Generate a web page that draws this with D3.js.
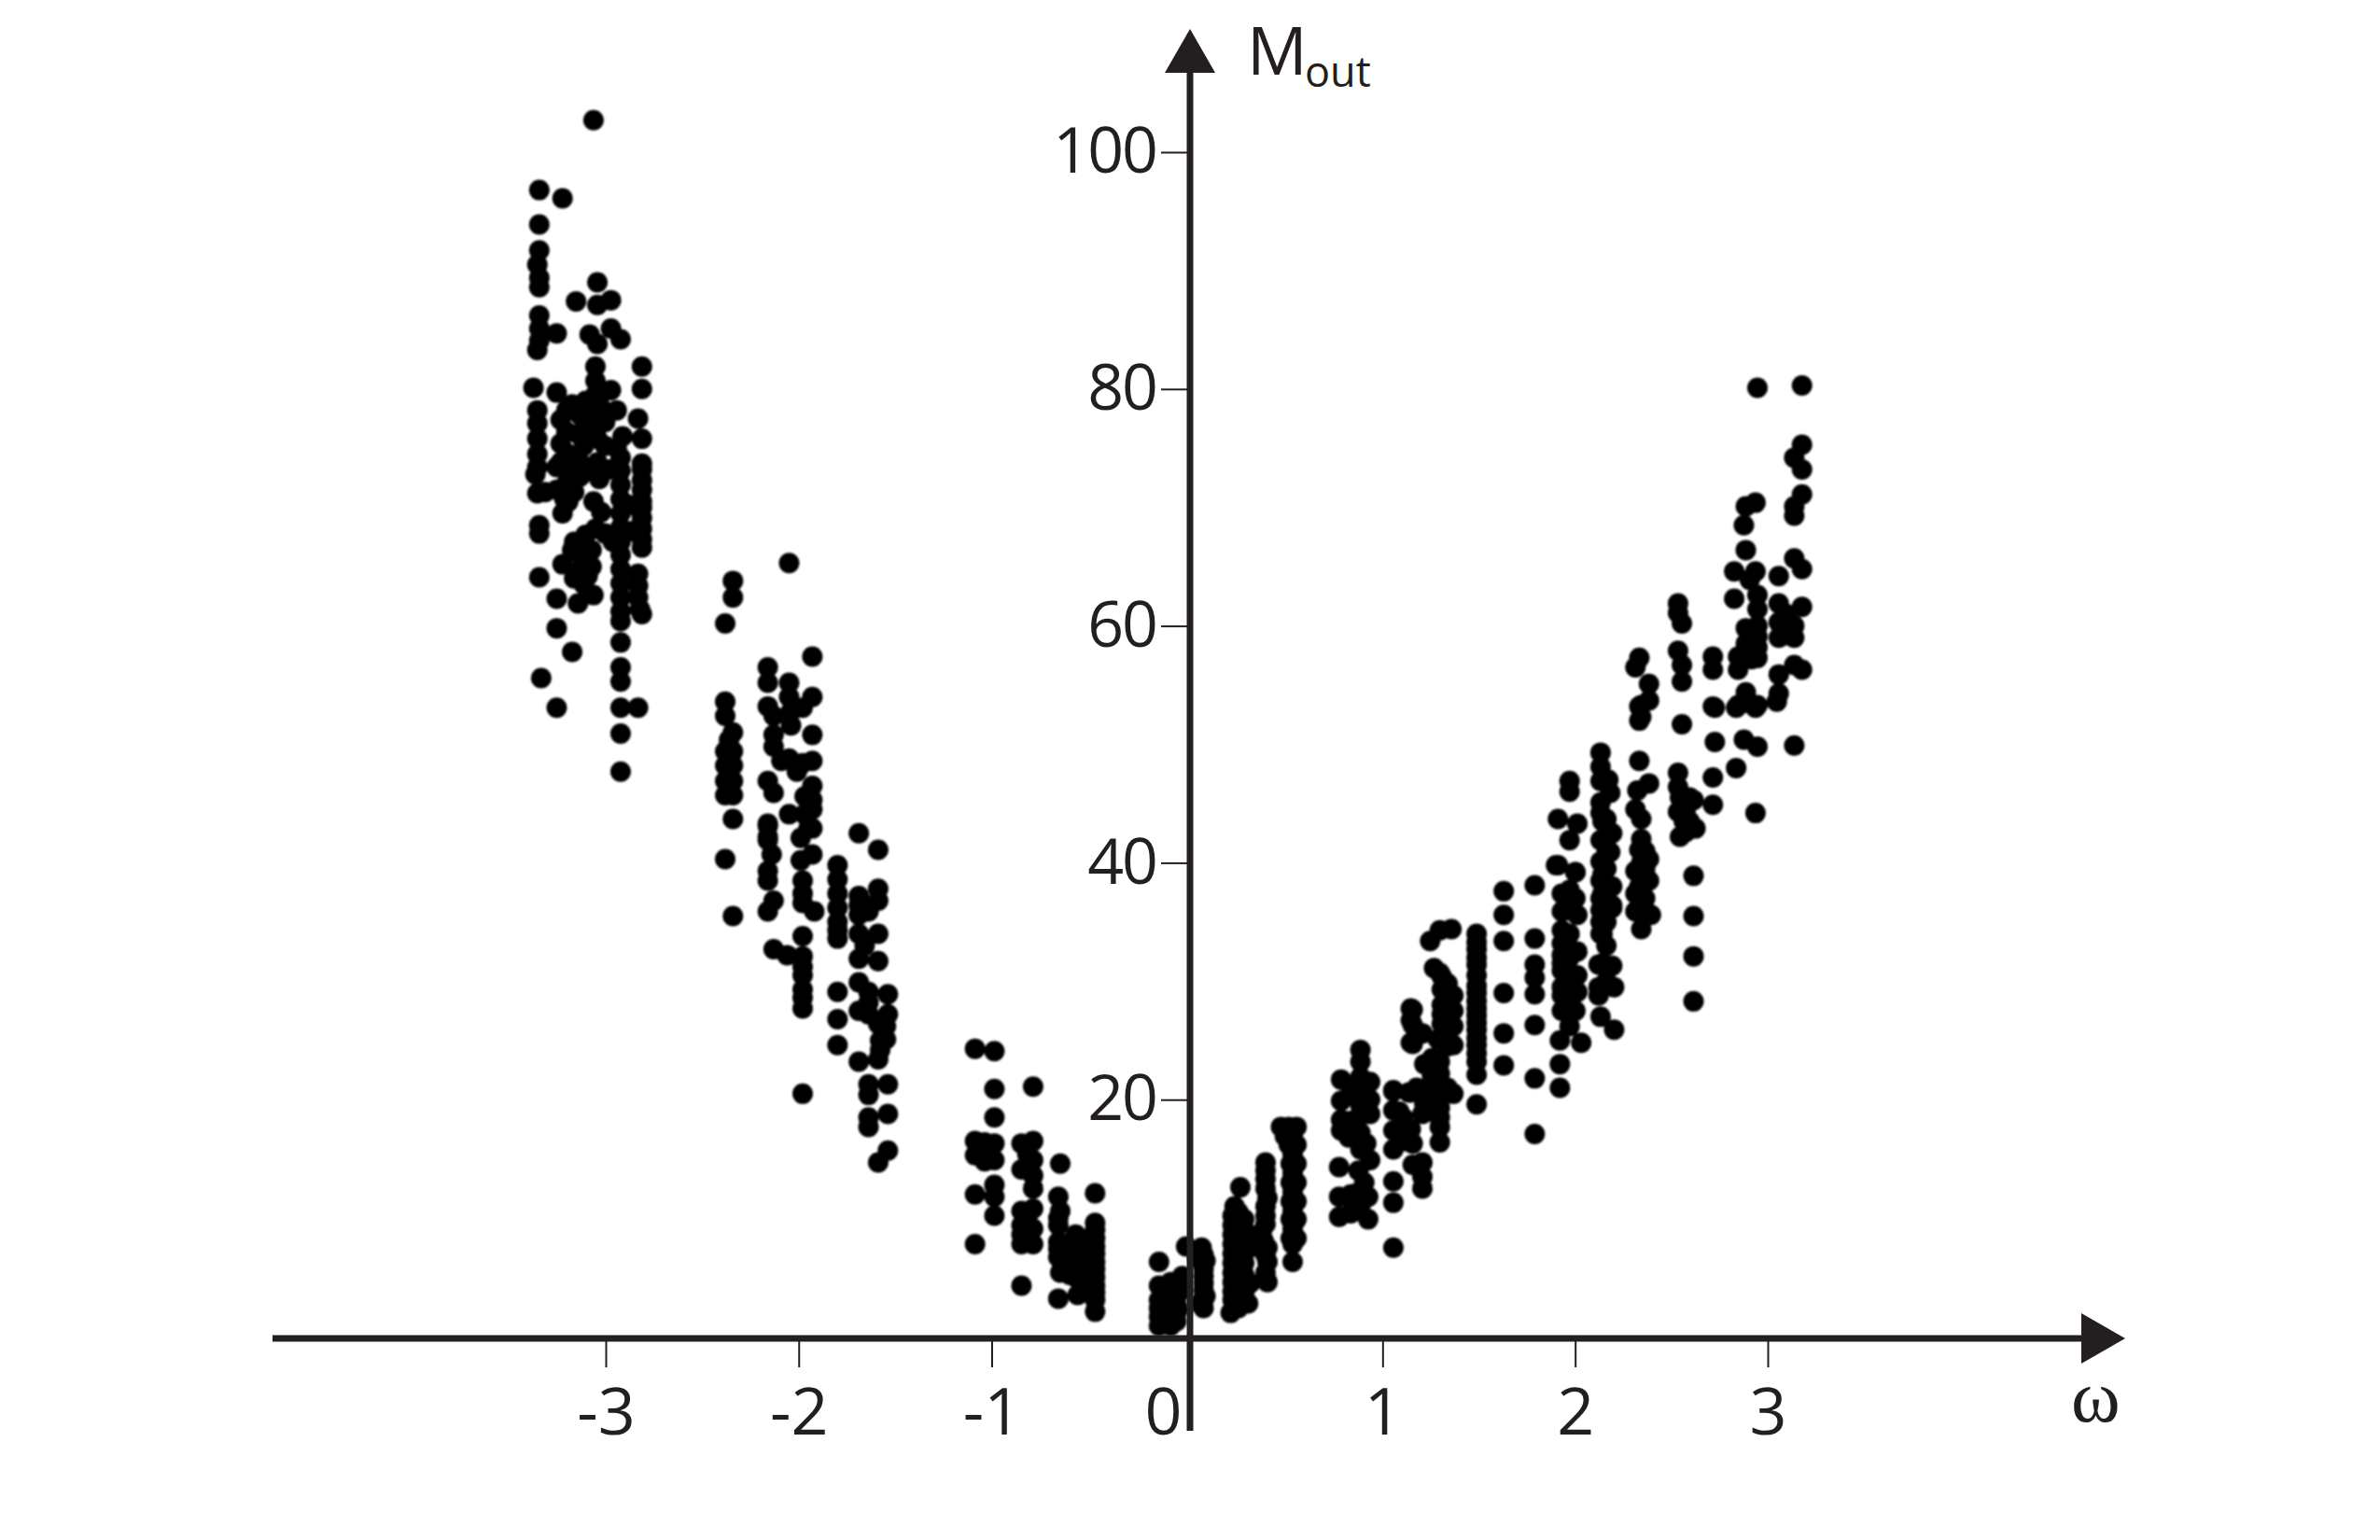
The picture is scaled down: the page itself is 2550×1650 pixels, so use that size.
<!DOCTYPE html>
<html>
<head>
<meta charset="utf-8">
<script src="https://cdn.jsdelivr.net/npm/d3@7"></script>
<style>
  html, body { margin: 0; background: #fff; }
  text { font-family: "Open Sans", sans-serif; fill: #231f20; }
</style>
</head>
<body>
<svg id="chart" width="2550" height="1650"></svg>
<script>
// tick labels
var omegaTicks = [-3, -2, -1, 0, 1, 2, 3];
var moutTicks = [20, 40, 60, 80, 100];

// [omega, Mout], one list per band
var bandNeg3Left = [
  [-3.08, 102.7], [-3.36, 96.8], [-3.24, 96.1], [-3.36, 93.9], [-3.36, 91.7], [-3.37, 90.5], [-3.36, 89.4], [-3.36, 88.6],
  [-3.36, 86.2], [-3.36, 85.1], [-3.36, 84.1], [-3.37, 83.3], [-3.27, 84.7], [-3.39, 80.1], [-3.27, 79.7],
  [-3.37, 78.2], [-3.37, 77.1], [-3.37, 75.8], [-3.37, 74.5], [-3.37, 71.2], [-3.36, 68.5], [-3.36, 67.8],
  [-3.36, 64.1], [-3.35, 55.6], [-3.27, 53.1], [-3.27, 59.8], [-3.27, 62.3], [-3.27, 71.5], [-3.27, 73.4],
  [-3.25, 77.4], [-3.25, 75.4], [-3.25, 73.8], [-3.24, 69.5], [-3.24, 65.2], [-3.21, 70.5],
  [-3.19, 78.7], [-3.16, 76.2], [-3.16, 74.2], [-3.18, 71.3], [-3.18, 67.1], [-3.19, 66.4], [-3.17, 64.5],
  [-3.18, 64.0], [-3.16, 61.9], [-3.19, 57.8],
  [-3.33, 71.3], [-3.38, 72.8], [-3.37, 73.4], [-3.22, 78.2], [-3.22, 76.4], [-3.22, 74.6], [-3.2, 72.8],
  [-3.15, 77.8], [-3.13, 75.2], [-3.15, 72.6], [-3.15, 66.0], [-3.14, 64.8], [-3.13, 63.5], [-3.22, 72.0], [-3.23, 70.7]
];
var bandNeg3Mid = [
  [-3.06, 89.0], [-3.17, 87.4], [-3.06, 87.1], [-2.99, 87.5], [-3.10, 84.6], [-3.06, 83.8], [-2.99, 85.1], [-2.94, 84.2],
  [-3.07, 81.9], [-3.07, 80.7], [-3.07, 79.5], [-2.99, 79.9], [-3.12, 79.0], [-3.05, 78.7], [-2.96, 78.2],
  [-3.06, 77.8], [-3.06, 75.8], [-3.06, 73.8], [-3.13, 78.6], [-3.09, 73.4], [-3.05, 72.4], [-3.08, 70.5], [-3.12, 67.7],
  [-3.07, 68.2], [-3.09, 66.4], [-3.09, 65.0], [-3.11, 64.2], [-3.08, 62.6], [-2.98, 67.1],
  [-3.09, 76.8], [-3.02, 77.2], [-3.02, 75.2], [-3.0, 73.2], [-3.11, 66.0], [-3.04, 69.6], [-3.02, 67.8]
];
var bandNeg3Right = [
  [-2.94, 74.2], [-2.94, 73.1], [-2.94, 71.9], [-2.94, 70.7], [-2.94, 69.5], [-2.94, 68.3], [-2.94, 67.1], [-2.94, 66.0],
  [-2.94, 64.8], [-2.94, 63.6], [-2.94, 62.4], [-2.94, 61.2], [-2.94, 60.4], [-2.94, 58.6], [-2.94, 56.5], [-2.94, 55.3],
  [-2.94, 53.1], [-2.94, 50.9], [-2.94, 47.7], [-2.85, 77.5], [-2.93, 76.0], [-2.96, 75.0],
  [-2.83, 81.9], [-2.83, 80.0], [-2.83, 75.8], [-2.83, 73.7], [-2.83, 73.2], [-2.83, 71.5], [-2.83, 70.5], [-2.83, 69.1],
  [-2.83, 67.3], [-2.85, 64.4], [-2.85, 62.4], [-2.83, 61.0], [-2.84, 61.4], [-2.85, 53.1],
  [-2.83, 72.3], [-2.83, 70.0], [-2.83, 68.2], [-2.83, 66.6], [-2.85, 63.4], [-2.88, 70.2], [-2.88, 68.0]
];
var bandNeg2Left = [
  [-2.07, 65.3], [-2.36, 63.8], [-2.36, 62.4], [-2.40, 60.2], [-1.95, 57.4], [-2.18, 56.5], [-2.18, 55.2],
  [-2.07, 55.2], [-2.07, 54.0], [-1.95, 54.0], [-2.00, 53.1], [-2.06, 52.8], [-2.18, 53.2], [-2.15, 52.4], [-2.06, 51.6],
  [-2.40, 53.6], [-2.40, 52.4], [-2.36, 51.0], [-1.95, 50.8], [-2.15, 50.8], [-2.15, 49.8], [-2.07, 48.8], [-2.00, 48.4],
  [-1.95, 48.6], [-2.40, 49.4], [-2.36, 49.4], [-2.40, 48.2], [-2.36, 48.2], [-2.40, 46.9], [-2.36, 46.9], [-2.40, 45.7],
  [-2.36, 45.7], [-2.36, 43.7], [-2.18, 46.9], [-2.15, 45.9], [-1.95, 46.5], [-1.99, 45.6], [-1.95, 44.5], [-2.07, 44.1],
  [-1.99, 44.1], [-1.95, 42.9], [-2.18, 43.1], [-2.18, 42.2], [-2.18, 43.3], [-2.18, 41.9], [-1.97, 44.5], [-1.97, 42.9],
  [-2.01, 42.1], [-1.95, 45.3], [-2.16, 40.7], [-2.18, 39.3], [-2.18, 38.5], [-2.40, 40.3], [-1.95, 40.7], [-2.01, 40.2],
  [-2.00, 38.5], [-2.00, 37.4], [-2.00, 36.6], [-1.94, 35.9], [-2.15, 36.8], [-2.18, 35.9], [-2.36, 35.5],
  [-2.00, 33.8], [-2.15, 32.7], [-2.08, 32.2], [-2.00, 32.1], [-2.00, 30.5], [-2.00, 29.3], [-2.00, 27.7], [-2.00, 20.5],
  [-2.38, 49.0], [-2.38, 47.5], [-2.38, 46.2], [-2.38, 50.4], [-2.03, 47.7], [-2.11, 48.6], [-2.0, 31.2], [-2.0, 28.6]
];
var bandNeg2Right = [
  [-1.71, 42.5], [-1.61, 41.1], [-1.82, 39.8], [-1.82, 37.4], [-1.82, 36.2], [-1.82, 35.0], [-1.82, 33.6],
  [-1.71, 37.2], [-1.71, 35.6], [-1.61, 37.8], [-1.61, 36.8], [-1.66, 35.9], [-1.61, 34.0], [-1.71, 34.0], [-1.68, 33.0],
  [-1.71, 31.9], [-1.61, 31.7], [-1.82, 29.1], [-1.82, 26.8], [-1.82, 24.6], [-1.71, 29.9], [-1.66, 29.1], [-1.56, 28.9],
  [-1.71, 27.5], [-1.66, 27.2], [-1.56, 27.2], [-1.57, 26.2], [-1.57, 25.1], [-1.71, 23.2], [-1.61, 23.4],
  [-1.66, 21.3], [-1.56, 21.3], [-1.66, 20.4], [-1.66, 18.5], [-1.56, 18.8], [-1.66, 17.7], [-1.56, 15.7], [-1.61, 14.7],
  [-1.82, 38.6], [-1.82, 34.3], [-1.61, 26.4], [-1.6, 25.0], [-1.6, 24.2], [-1.71, 36.4], [-1.66, 28.2]
];
var bandNeg1 = [
  [-1.11, 24.3], [-1.01, 24.1], [-1.01, 20.9], [-0.81, 21.1], [-1.01, 18.5], [-1.11, 16.5], [-1.11, 15.3], [-1.01, 16.3],
  [-1.01, 14.9], [-1.06, 15.7], [-1.11, 12.0], [-1.01, 12.8], [-1.01, 11.8], [-1.01, 10.2], [-1.11, 7.8],
  [-0.87, 16.3], [-0.81, 16.5], [-0.87, 14.1], [-0.81, 14.9], [-0.81, 13.6], [-0.81, 12.5],
  [-0.87, 10.6], [-0.81, 10.8], [-0.87, 9.4], [-0.81, 9.1], [-0.87, 7.8], [-0.81, 7.8], [-0.87, 4.3],
  [-0.67, 14.6], [-0.49, 12.1], [-0.68, 11.8], [-0.67, 10.6], [-0.68, 9.4], [-0.68, 8.0], [-0.68, 6.7], [-0.67, 5.4], [-0.68, 3.2],
  [-0.59, 8.6], [-0.59, 7.2], [-0.59, 5.9], [-0.58, 3.5],
  [-0.49, 9.6], [-0.49, 8.3], [-0.49, 7.0], [-0.49, 5.7], [-0.49, 4.3], [-0.49, 3.1], [-0.49, 2.1],
  [-1.06, 16.4], [-1.06, 14.8], [-0.84, 15.4], [-0.84, 10.0], [-0.84, 8.6], [-0.87, 8.6],
  [-0.68, 10.0], [-0.68, 7.4], [-0.66, 6.0], [-0.63, 7.8], [-0.63, 6.2], [-0.62, 5.2], [-0.59, 7.9], [-0.59, 6.5], [-0.59, 5.0],
  [-0.54, 8.2], [-0.54, 7.0], [-0.54, 5.9], [-0.54, 4.9], [-0.53, 3.8], [-0.49, 9.0], [-0.49, 7.6], [-0.49, 6.3], [-0.49, 5.0], [-0.49, 3.7]
];
var bandZero = [
  [-0.16, 6.3], [-0.02, 7.6], [0.06, 7.5], [0.06, 6.3], [0.07, 5.1], [0.07, 3.9], [0.07, 2.4],
  [-0.16, 4.3], [-0.16, 3.1], [-0.16, 1.7], [-0.16, 0.9], [-0.10, 4.6], [-0.10, 3.3], [-0.10, 2.0], [-0.10, 0.9],
  [-0.04, 5.1], [-0.04, 3.9], [-0.06, 2.3],
  [-0.13, 3.8], [-0.13, 2.6], [-0.13, 1.2], [-0.07, 4.3], [-0.07, 2.7], [-0.07, 1.3], [-0.16, 2.4],
  [0.07, 6.9], [0.07, 5.7], [0.07, 4.5], [0.07, 3.1], [0.05, 2.8], [0.04, 6.6], [0.08, 6.4], [0.08, 3.4]
];
var bandPosHalf = [
  [0.26, 12.6], [0.23, 11.0], [0.22, 9.4], [0.28, 9.9], [0.22, 7.8], [0.28, 8.0], [0.22, 6.2], [0.28, 6.2], [0.22, 4.6], [0.28, 4.3],
  [0.21, 2.0], [0.22, 3.1], [0.30, 2.8],
  [0.39, 14.7], [0.39, 13.3], [0.40, 11.7], [0.39, 10.2], [0.37, 8.8], [0.40, 7.5], [0.40, 6.3], [0.40, 4.6],
  [0.47, 17.7], [0.51, 17.7], [0.55, 17.7], [0.51, 16.2], [0.55, 16.2], [0.52, 14.6], [0.55, 14.6], [0.52, 13.0], [0.55, 13.0],
  [0.52, 11.4], [0.55, 11.4], [0.52, 9.9], [0.55, 9.9], [0.52, 8.3], [0.55, 8.3], [0.53, 6.3],
  [0.22, 10.2], [0.25, 10.5], [0.22, 8.6], [0.25, 8.8], [0.28, 9.0], [0.22, 7.0], [0.25, 7.0], [0.28, 7.1], [0.22, 5.4], [0.25, 5.3],
  [0.28, 5.2], [0.22, 3.8], [0.25, 3.5], [0.28, 3.6], [0.25, 2.4], [0.28, 2.8], [0.31, 4.5], [0.31, 7.5],
  [0.39, 14.0], [0.39, 12.5], [0.39, 11.0], [0.39, 9.5], [0.38, 8.1], [0.39, 6.9], [0.39, 5.4],
  [0.53, 17.0], [0.53, 15.4], [0.53, 13.8], [0.53, 12.2], [0.53, 10.6], [0.53, 9.1], [0.49, 16.9], [0.53, 7.8]
];
var bandPos1 = [
  [0.88, 24.2], [0.88, 23.2], [0.78, 21.7], [0.88, 21.9], [0.93, 21.5], [0.78, 19.9], [0.88, 20.3], [0.78, 17.4],
  [0.88, 18.6], [0.93, 18.8], [0.78, 18.3], [0.88, 17.2], [0.88, 15.8], [0.93, 14.9], [0.91, 16.3],
  [0.77, 14.3], [0.87, 14.0], [0.77, 11.8], [0.77, 10.1], [0.86, 12.1], [0.92, 11.8], [0.84, 10.7], [0.92, 9.9],
  [1.05, 20.8], [1.05, 19.1], [1.05, 17.4], [1.05, 15.8], [1.05, 13.1], [1.05, 11.3], [1.05, 7.5],
  [1.13, 20.6], [1.12, 17.4], [1.15, 16.3], [1.15, 14.5], [1.20, 14.7], [1.20, 12.5], [1.20, 13.5],
  [1.15, 27.6], [1.15, 26.3], [1.15, 24.7], [1.20, 25.6], [1.26, 31.1], [1.29, 30.7],
  [1.35, 34.4], [1.29, 34.3], [1.24, 33.4], [1.14, 27.7], [1.14, 26.7], [1.14, 24.8], [1.19, 25.6],
  [1.30, 29.3], [1.36, 28.8], [1.30, 28.0], [1.36, 27.5], [1.30, 26.4], [1.36, 26.2], [1.28, 25.1], [1.36, 24.6],
  [1.21, 23.0], [1.29, 23.2], [1.29, 22.2], [1.05, 20.7], [1.14, 20.6], [1.21, 20.8], [1.29, 20.6], [1.36, 20.5],
  [1.21, 19.6], [1.29, 19.3], [1.29, 17.7], [1.14, 17.5],
  [0.83, 21.0], [0.83, 18.2], [0.83, 12.0], [0.83, 10.4], [0.88, 19.5], [0.9, 13.0], [0.93, 20.0], [0.88, 11.0], [0.85, 20.4], [0.82, 16.8],
  [1.08, 19.0], [1.1, 16.5], [1.1, 18.5], [1.25, 20.0], [1.25, 21.5], [1.25, 23.5], [1.25, 19.0], [1.29, 16.4], [1.29, 18.5], [1.25, 22.0],
  [1.33, 28.5], [1.33, 27.0], [1.33, 25.5], [1.33, 24.5], [1.3, 30.4], [1.3, 27.2], [1.33, 29.8], [1.17, 21.0], [1.2, 18.8], [1.33, 21.0]
];
var bandPos1Cols = [
  [1.48, 34.0], [1.48, 32.7], [1.48, 31.4], [1.48, 29.6], [1.48, 28.3], [1.48, 27.1], [1.48, 25.9], [1.48, 24.6], [1.48, 23.2], [1.48, 22.1], [1.48, 19.6],
  [1.62, 37.6], [1.62, 35.6], [1.62, 33.4], [1.62, 29.0], [1.62, 25.6], [1.62, 22.9],
  [1.78, 38.1], [1.78, 33.6], [1.78, 31.4], [1.78, 30.3], [1.78, 28.9], [1.78, 26.3], [1.78, 21.8], [1.78, 17.1],
  [1.48, 33.3], [1.48, 30.5], [1.48, 29.0], [1.48, 27.7], [1.48, 26.5], [1.48, 25.2], [1.48, 23.9], [1.48, 32.0]
];
var bandPos2 = [
  [1.89, 39.8], [1.99, 39.2], [1.92, 37.4], [1.92, 35.9], [1.92, 34.3], [2.00, 35.6], [1.99, 37.0],
  [1.92, 32.2], [1.92, 30.9], [2.00, 32.5], [1.92, 28.8], [1.92, 27.5], [2.00, 29.1], [1.99, 27.5],
  [1.91, 25.0], [2.02, 24.8], [1.91, 23.0], [1.91, 21.0],
  [1.90, 43.7], [2.00, 43.3], [1.96, 41.9], [1.90, 39.8], [1.99, 39.2], [1.96, 46.9], [1.96, 46.0],
  [2.13, 39.0], [2.13, 37.4], [2.18, 36.4], [2.13, 34.0], [2.11, 31.4], [2.18, 31.3], [2.11, 28.8], [2.19, 29.5],
  [2.12, 27.0], [2.19, 25.9],
  [2.12, 49.3], [2.12, 48.1], [2.12, 46.9], [2.17, 45.9], [2.12, 45.1], [2.13, 43.5], [2.18, 42.5], [2.12, 41.9],
  [2.17, 40.9], [2.12, 40.1], [2.12, 38.5], [2.18, 38.0], [2.12, 37.0], [2.18, 36.2], [2.12, 34.0],
  [2.32, 48.6], [2.37, 46.7], [2.31, 46.1], [2.30, 44.5], [2.33, 43.7],
  [2.32, 41.1], [2.37, 40.3], [2.30, 39.3], [2.37, 38.5], [2.30, 37.4], [2.30, 35.9], [2.38, 35.6], [2.33, 34.4],
  [2.32, 57.3], [2.30, 56.5], [2.37, 55.1], [2.37, 53.7], [2.32, 53.2], [2.32, 52.0], [2.33, 53.3], [2.33, 52.3],
  [2.52, 47.6], [2.52, 46.4], [2.60, 45.3], [2.52, 44.3], [2.58, 43.5], [2.53, 42.2], [2.61, 42.9], [2.54, 51.7],
  [2.60, 38.9], [2.60, 35.5], [2.60, 32.1], [2.60, 28.3],
  [2.52, 61.9], [2.52, 61.1], [2.54, 60.2], [2.52, 57.9], [2.54, 56.7], [2.54, 55.3],
  [1.96, 36.0], [1.96, 34.0], [1.96, 30.0], [1.96, 28.0], [1.96, 32.0], [1.96, 37.7], [1.92, 31.5], [1.92, 33.2], [1.92, 29.5], [1.96, 26.2], [2.0, 30.5],
  [2.12, 44.2], [2.15, 42.0], [2.15, 39.5], [2.15, 38.0], [2.12, 36.0], [2.15, 35.0], [2.12, 35.0], [2.16, 47.0], [2.15, 43.7], [2.15, 40.8],
  [2.13, 31.5], [2.15, 30.0], [2.11, 29.5], [2.15, 33.0], [2.16, 36.6],
  [2.32, 38.0], [2.35, 39.5], [2.35, 37.0], [2.35, 36.0], [2.33, 42.0], [2.33, 40.0], [2.35, 41.0],
  [2.55, 45.0], [2.55, 43.5], [2.56, 44.5], [2.58, 45.5], [2.53, 45.5], [2.56, 42.6]
];
var bandPos3 = [
  [2.71, 53.1], [2.82, 53.1], [2.92, 53.1], [3.03, 53.6], [2.71, 50.2], [2.86, 50.4], [2.93, 49.8], [3.12, 49.9],
  [2.82, 48.0], [2.70, 47.2], [2.70, 44.9], [2.92, 44.2], [2.70, 57.4], [2.70, 56.3], [2.70, 53.2],
  [2.83, 53.3], [2.87, 54.4], [2.93, 53.3],
  [2.93, 80.1], [3.16, 80.3], [3.16, 75.3], [3.12, 74.2], [3.16, 73.2], [3.16, 71.1], [3.12, 70.1], [3.12, 69.3],
  [2.87, 70.1], [2.92, 70.4], [2.86, 68.5], [2.87, 66.4], [3.12, 65.7], [3.16, 64.8],
  [2.81, 64.6], [2.92, 64.6], [3.04, 64.2], [2.81, 62.3], [2.93, 62.6], [2.93, 61.4], [3.04, 61.9], [3.16, 61.6],
  [2.87, 59.8], [2.93, 60.0], [3.04, 60.3], [3.04, 59.0], [3.12, 60.0], [3.12, 59.0],
  [2.93, 58.2], [2.83, 57.4], [2.83, 56.3], [3.04, 55.9], [3.12, 56.7], [3.16, 56.3], [3.04, 54.3],
  [2.93, 59.1], [2.9, 57.2], [3.07, 60.5], [3.07, 59.2], [3.08, 61.0], [2.87, 58.5], [2.88, 53.5], [2.89, 63.9], [2.93, 57.3]
];

var allBands = [bandNeg3Left, bandNeg3Mid, bandNeg3Right, bandNeg2Left, bandNeg2Right, bandNeg1,
  bandZero, bandPosHalf, bandPos1, bandPos1Cols, bandPos2, bandPos3];
var points = d3.merge(allBands);

var ink = "#231f20";
var svg = d3.select("#chart");

var x = d3.scaleLinear().domain([-3, 3]).range([652.5, 1897.5]);
var y = d3.scaleLinear().domain([0, 100]).range([1432, 163]);
var axisX = 1275, axisY = 1434;

// ticks in the original sit a little off the dots' grid on the negative side
var xTickScale = d3.scaleLinear().domain([-3, -1, 0, 3]).range([649, 1062.5, 1275, 1894]);

// scanned dots are a bit soft
var blur = svg.append("defs").append("filter").attr("id", "soft");
blur.append("feGaussianBlur").attr("stdDeviation", 1.2);

svg.append("g").attr("filter", "url(#soft)")
  .selectAll("circle").data(points).enter().append("circle")
  .attr("cx", function (d) { return x(d[0]); })
  .attr("cy", function (d) { return y(d[1]); })
  .attr("r", 11)
  .attr("fill", "#040406");

var xAxis = d3.axisBottom(xTickScale).tickValues(omegaTicks).tickSize(31).tickPadding(22).tickSizeOuter(0)
  .tickFormat(function (d) { return d; });
var yAxis = d3.axisLeft(y).tickValues(moutTicks).tickSize(31).tickPadding(5).tickSizeOuter(0);

var gx = svg.append("g").attr("transform", "translate(0," + axisY + ")").call(xAxis);
var gy = svg.append("g").attr("transform", "translate(" + axisX + ",0)").call(yAxis);
gx.select(".domain").remove();
gy.select(".domain").remove();
gx.selectAll("line").attr("stroke", ink).attr("stroke-width", 2);
gy.selectAll("line").attr("stroke", ink).attr("stroke-width", 2);
gx.selectAll("text").attr("font-size", 70).attr("font-family", "Open Sans").attr("fill", ink);
gy.selectAll("text").attr("font-size", 68).attr("font-family", "Open Sans").attr("fill", ink)
  .style("letter-spacing", "-2px");

// the 0 sits left of the vertical axis, and needs no tick of its own
gx.selectAll(".tick").filter(function (d) { return d === 0; }).select("text").attr("dx", -29);
gx.selectAll(".tick").filter(function (d) { return d === 0; }).select("line").remove();

// axis lines and arrow heads
svg.append("line").attr("x1", 292).attr("x2", 2235).attr("y1", axisY).attr("y2", axisY)
  .attr("stroke", ink).attr("stroke-width", 7);
svg.append("line").attr("x1", axisX).attr("x2", axisX).attr("y1", 75).attr("y2", 1533)
  .attr("stroke", ink).attr("stroke-width", 7);
svg.append("path").attr("fill", ink)
  .attr("d", "M2230," + (axisY - 27) + "L2277," + axisY + "L2230," + (axisY + 27) + "Z");
svg.append("path").attr("fill", ink)
  .attr("d", "M" + (axisX - 27) + ",78L" + axisX + ",31L" + (axisX + 27) + ",78Z");

// axis titles
svg.append("text").attr("x", 1336).attr("y", 80).attr("font-size", 72).text("M");
svg.append("text").attr("x", 1398).attr("y", 93).attr("font-size", 45).text("out");
svg.append("text").attr("x", 2219).attr("y", 1523).attr("font-size", 80)
  .style("font-family", "'Liberation Serif', serif").text("ω");
</script>
</body>
</html>
